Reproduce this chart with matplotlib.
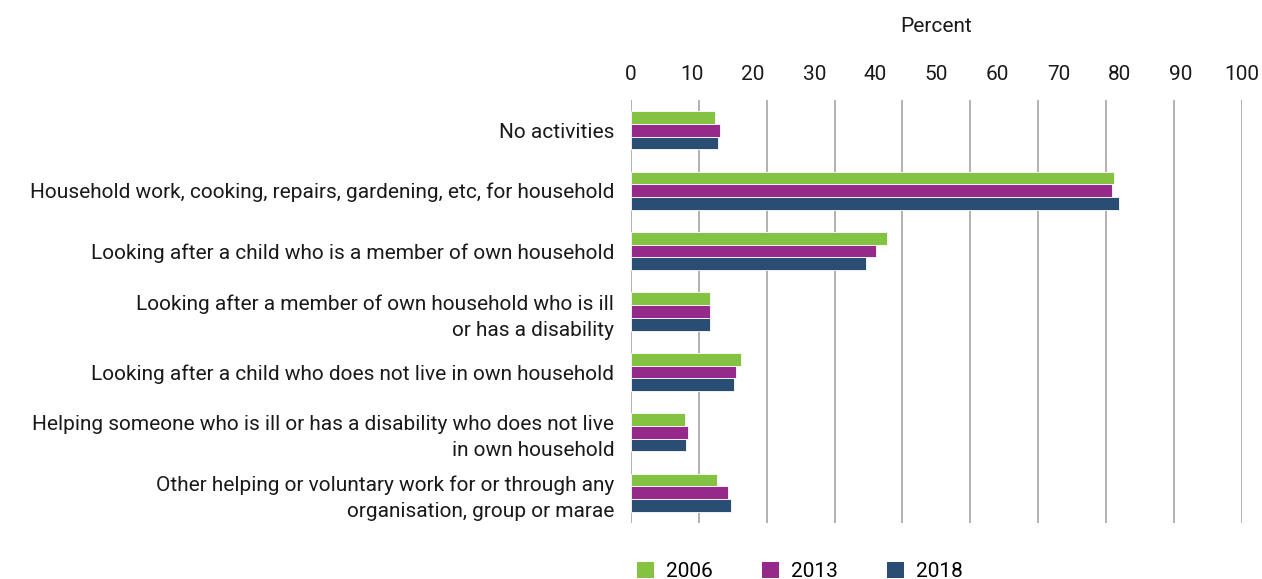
import matplotlib
matplotlib.use("Agg")
import matplotlib.pyplot as plt
import numpy as np
from matplotlib.patches import Patch

plt.rcParams['font.family'] = ['Roboto', 'DejaVu Sans']

categories = [
    "No activities",
    "Household work, cooking, repairs, gardening, etc, for household",
    "Looking after a child who is a member of own household",
    "Looking after a member of own household who is ill\nor has a disability",
    "Looking after a child who does not live in own household",
    "Helping someone who is ill or has a disability who does not live\nin own household",
    "Other helping or voluntary work for or through any\norganisation, group or marae",
]
years = ["2006", "2013", "2018"]
v2006 = [13.7, 79.1, 41.9, 12.9, 18.0, 8.9, 14.1]
v2013 = [14.6, 78.7, 40.1, 12.9, 17.2, 9.4, 15.9]
v2018 = [14.2, 79.9, 38.4, 12.9, 16.8, 9.0, 16.4]
xticks = [0, 10, 20, 30, 40, 50, 60, 70, 80, 90, 100]

colors = ["#84c341", "#952a8a", "#2a4d73"]

fig = plt.figure(figsize=(12.62, 5.79), dpi=100)
ax = fig.add_axes([0.5, 0.0967, 0.484, 0.7306])

y = np.arange(len(categories))
h = 0.21
for vals, off, c, lab in zip([v2006, v2013, v2018], [-h, 0, h], colors, years):
    ax.barh(y + off, vals, height=h, color=c, edgecolor='white', linewidth=0.6, label=lab, zorder=3)

for gx in np.linspace(0, 100, 10):
    ax.axvline(gx, color='#ababab', lw=1.3, zorder=1)

ax.set_xlim(0, 100)
ax.set_ylim(len(categories) - 0.5, -0.5)
ax.set_yticks(y)
ax.set_yticklabels(categories, fontsize=15, color='#1a1a1a', linespacing=1.45)
ax.set_xticks(xticks)
ax.set_xticklabels([str(t) for t in xticks], fontsize=15, color='#1a1a1a')
ax.xaxis.tick_top()
ax.xaxis.set_label_position('top')
ax.set_xlabel("Percent", fontsize=15, color='#1a1a1a', labelpad=24)
ax.tick_params(axis='x', length=0, pad=11.5)
ax.tick_params(axis='y', length=0, pad=12)
for s in ax.spines.values():
    s.set_visible(False)

handles = [Patch(facecolor=c, edgecolor='none') for c in colors]
fig.legend(handles, years, loc='center left', bbox_to_anchor=(0.505, 0.013), ncol=3,
           frameon=False, fontsize=15, handlelength=0.8, handleheight=0.8,
           handletextpad=0.6, columnspacing=2.35, borderpad=0, borderaxespad=0)

fig.savefig("out.png", dpi=100)
